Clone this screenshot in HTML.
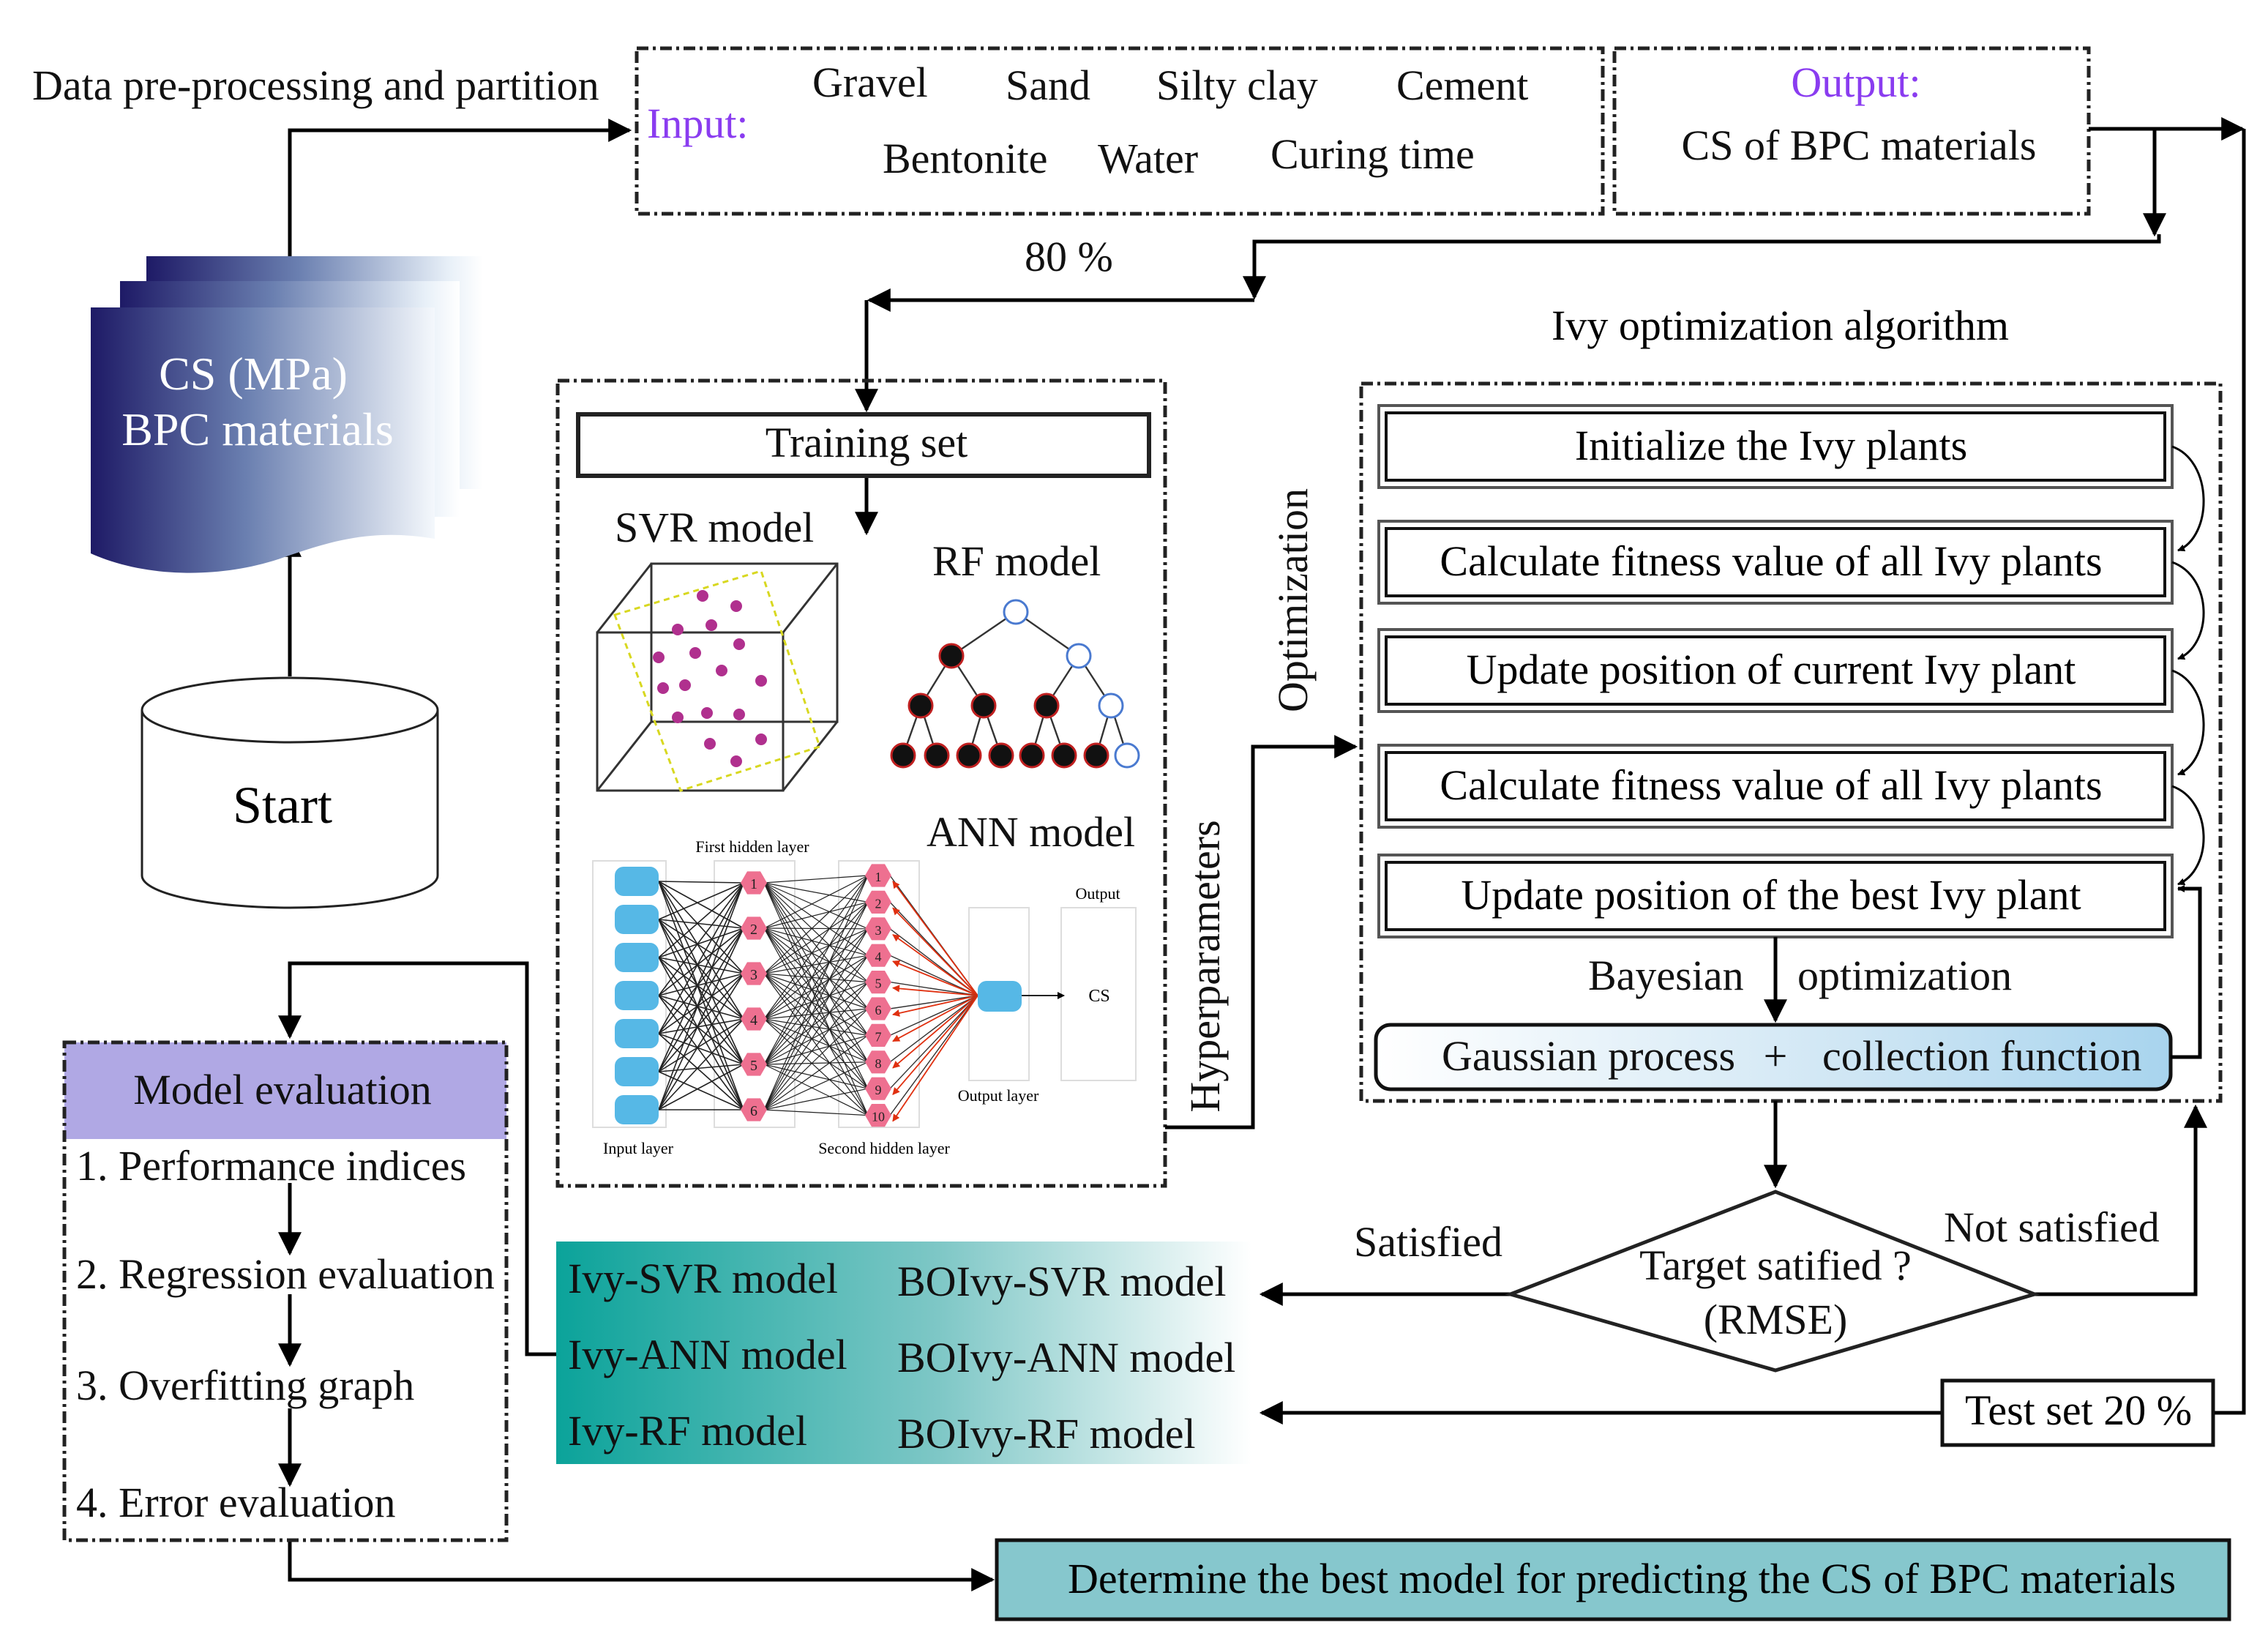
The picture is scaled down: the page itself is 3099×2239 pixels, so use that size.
<!DOCTYPE html>
<html><head><meta charset="utf-8"><style>
html,body{margin:0;padding:0;background:#fff;}
svg{display:block;font-family:"Liberation Serif",serif;}
</style></head><body>
<svg id="s" width="3099" height="2239" viewBox="0 0 1549.5 1119.5" xmlns="http://www.w3.org/2000/svg">
<defs>
<marker id="a" viewBox="0 0 10 10" refX="9" refY="5" markerWidth="6" markerHeight="5" orient="auto" markerUnits="userSpaceOnUse"><path d="M0,0L10,5L0,10z" fill="#000"/></marker>
<marker id="ab" viewBox="0 0 10 10" refX="9" refY="5" markerWidth="28" markerHeight="16" orient="auto" markerUnits="userSpaceOnUse"><path d="M0,0L10,5L0,10z" fill="#000"/></marker>
<marker id="ar" viewBox="0 0 10 10" refX="9" refY="5" markerWidth="6" markerHeight="5" orient="auto" markerUnits="userSpaceOnUse"><path d="M0,0L10,5L0,10z" fill="#e03010"/></marker>
<linearGradient id="doc" x1="0" x2="1" y1="0" y2="0"><stop offset="0" stop-color="#1e1a66"/><stop offset="0.45" stop-color="#6a7fb0"/><stop offset="1" stop-color="#f4f8fc"/></linearGradient>
<linearGradient id="doc2" x1="0" x2="1" y1="0" y2="0"><stop offset="0" stop-color="#1e1a66"/><stop offset="0.45" stop-color="#6a7fb0"/><stop offset="0.9" stop-color="#e8f0f8"/><stop offset="1" stop-color="#ffffff"/></linearGradient>
<linearGradient id="teal" x1="0" x2="1"><stop offset="0" stop-color="#0ba39a"/><stop offset="0.55" stop-color="#7ec7c6"/><stop offset="1" stop-color="#ffffff"/></linearGradient>
<linearGradient id="gau" x1="0" x2="1"><stop offset="0" stop-color="#ffffff"/><stop offset="0.6" stop-color="#cfe6f4"/><stop offset="1" stop-color="#a8d4ee"/></linearGradient>
</defs>
<g font-size="29" fill="#111">
<text x="22" y="68">Data pre-processing and partition</text>
<rect x="435" y="33" width="660" height="113" fill="none" stroke="#222" stroke-width="2.5" stroke-dasharray="8,3,2,3"/>
<rect x="1103" y="33" width="324" height="113" fill="none" stroke="#222" stroke-width="2.5" stroke-dasharray="8,3,2,3"/>
<text x="442" y="94" fill="#8a3cf0">Input:</text>
<text x="555" y="66">Gravel</text><text x="687" y="68">Sand</text><text x="790" y="68">Silty clay</text><text x="954" y="68">Cement</text>
<text x="603" y="118">Bentonite</text><text x="750" y="118">Water</text><text x="868" y="115">Curing time</text>
<text x="1268" y="66" text-anchor="middle" fill="#8a3cf0">Output:</text>
<text x="1270" y="109" text-anchor="middle">CS of BPC materials</text>
<text x="700" y="185">80 %</text>
</g>
<g stroke="#000" stroke-width="2.5" fill="none">
<polyline points="198,175 198,89 430,89" marker-end="url(#ab)"/>
<polyline points="1427,88 1532,88" marker-end="url(#ab)"/>
<polyline points="1472,88 1472,160" marker-end="url(#ab)"/>
<polyline points="1475,160 1475,165 857,165 857,203" marker-end="url(#ab)"/>
<polyline points="857,205 594,205" marker-end="url(#ab)"/>
<polyline points="592,205 592,280" marker-end="url(#ab)"/>
<polyline points="592,326 592,364" marker-end="url(#ab)"/>
<polyline points="198,462 198,366" marker-end="url(#ab)"/>
</g>
<!-- doc stack -->
<rect x="100" y="175" width="230" height="159" fill="url(#doc2)"/>
<rect x="82" y="192" width="232" height="161" fill="url(#doc2)"/>
<path d="M62,210 H297 V368 C250,360 220,372 190,382 C150,395 100,395 62,378 Z" fill="url(#doc)"/>
<text x="173" y="266" font-size="32" fill="#fff" text-anchor="middle">CS (MPa)</text>
<text x="176" y="304" font-size="32" fill="#fff" text-anchor="middle">BPC materials</text>
<!-- cylinder -->
<path d="M97,485 V598 A101,22 0 0 0 299,598 V485" fill="#fff" stroke="#222" stroke-width="1.5"/>
<ellipse cx="198" cy="485" rx="101" ry="22" fill="#fff" stroke="#222" stroke-width="1.5"/>
<text x="193" y="562" font-size="36" text-anchor="middle">Start</text>
<!-- training box -->
<rect x="381" y="260" width="415" height="550" fill="none" stroke="#222" stroke-width="2.5" stroke-dasharray="8,3,2,3"/>
<rect x="395" y="283" width="390" height="42" fill="#fff" stroke="#222" stroke-width="3"/>
<g font-size="29" fill="#111">
<text x="592" y="312" text-anchor="middle">Training set</text>
<text x="420" y="370">SVR model</text>
<text x="637" y="393">RF model</text>
<text x="633" y="578">ANN model</text>
</g>
<g stroke="#333" stroke-width="1.5" fill="none">
<rect x="408" y="432" width="127" height="108"/><rect x="445" y="385" width="127" height="108"/>
<line x1="408" y1="432" x2="445" y2="385"/><line x1="535" y1="432" x2="572" y2="385"/><line x1="408" y1="540" x2="445" y2="493"/><line x1="535" y1="540" x2="572" y2="493"/>
</g>
<polygon points="420,420 520,390 560,510 465,540" fill="none" stroke="#d8d820" stroke-width="1.5" stroke-dasharray="4,3"/>
<g fill="#b0308e">
<circle cx="480" cy="407" r="4"/><circle cx="503" cy="414" r="4"/><circle cx="463" cy="430" r="4"/><circle cx="486" cy="427" r="4"/><circle cx="505" cy="440" r="4"/><circle cx="450" cy="449" r="4"/><circle cx="475" cy="446" r="4"/><circle cx="493" cy="458" r="4"/><circle cx="453" cy="470" r="4"/><circle cx="468" cy="468" r="4"/><circle cx="520" cy="465" r="4"/><circle cx="483" cy="487" r="4"/><circle cx="505" cy="488" r="4"/><circle cx="463" cy="490" r="4"/><circle cx="520" cy="505" r="4"/><circle cx="485" cy="508" r="4"/><circle cx="503" cy="520" r="4"/>
</g>
<g stroke="#333" stroke-width="1.2">
<line x1="694" y1="418" x2="650" y2="448"/><line x1="694" y1="418" x2="737" y2="448"/>
<line x1="650" y1="448" x2="629" y2="482"/><line x1="650" y1="448" x2="672" y2="482"/><line x1="737" y1="448" x2="715" y2="482"/><line x1="737" y1="448" x2="759" y2="482"/>
<line x1="629" y1="482" x2="617" y2="516"/><line x1="629" y1="482" x2="640" y2="516"/><line x1="672" y1="482" x2="662" y2="516"/><line x1="672" y1="482" x2="684" y2="516"/><line x1="715" y1="482" x2="705" y2="516"/><line x1="715" y1="482" x2="727" y2="516"/><line x1="759" y1="482" x2="749" y2="516"/><line x1="759" y1="482" x2="770" y2="516"/>
</g>
<g fill="#111" stroke="#c02020" stroke-width="1.5">
<circle cx="650" cy="448" r="8"/><circle cx="629" cy="482" r="8"/><circle cx="672" cy="482" r="8"/><circle cx="715" cy="482" r="8"/>
<circle cx="617" cy="516" r="8"/><circle cx="640" cy="516" r="8"/><circle cx="662" cy="516" r="8"/><circle cx="684" cy="516" r="8"/><circle cx="705" cy="516" r="8"/><circle cx="727" cy="516" r="8"/><circle cx="749" cy="516" r="8"/>
</g>
<g fill="#fff" stroke="#4a7ad0" stroke-width="1.5">
<circle cx="694" cy="418" r="8"/><circle cx="737" cy="448" r="8"/><circle cx="759" cy="482" r="8"/><circle cx="770" cy="516" r="8"/>
</g>
<g id="ann"></g>
<text x="1060" y="232" font-size="29">Ivy optimization algorithm</text>
<rect x="930" y="262" width="587" height="490" fill="none" stroke="#222" stroke-width="2.5" stroke-dasharray="8,3,2,3"/>
<g id="ivy" font-size="29"></g>
<g font-size="29" fill="#111">
<text x="1085" y="676">Bayesian</text><text x="1228" y="676">optimization</text>
</g>
<rect x="940" y="700" width="543" height="44" rx="10" fill="url(#gau)" stroke="#111" stroke-width="2.5"/>
<g font-size="29" fill="#111">
<text x="985" y="731">Gaussian process</text><text x="1213" y="731" text-anchor="middle">+</text><text x="1245" y="731">collection function</text>
<text transform="translate(893,410) rotate(-90)" text-anchor="middle">Optimization</text>
<text transform="translate(833,660) rotate(-90)" text-anchor="middle">Hyperparameters</text>
</g>
<g stroke="#000" stroke-width="2.5" fill="none">
<polyline points="1213,640 1213,697" marker-end="url(#ab)"/>
<polyline points="1483,722 1503,722 1503,607 1488,607" marker-end="url(#a)"/>
<polyline points="796,770 856,770 856,510 926,510" marker-end="url(#ab)"/>
<polyline points="1213,752 1213,810" marker-end="url(#ab)"/>
<polyline points="1032,884 862,884" marker-end="url(#ab)"/>
<polyline points="1390,884 1500,884 1500,756" marker-end="url(#ab)"/>
<polyline points="1512,965 1533,965 1533,88"/>
<polyline points="1327,965 862,965" marker-end="url(#ab)"/>
<polyline points="380,925 360,925 360,658 198,658 198,708" marker-end="url(#ab)"/>
<polyline points="198,1052 198,1079 678,1079" marker-end="url(#ab)"/>
<polyline points="198,808 198,856" marker-end="url(#ab)"/>
<polyline points="198,884 198,932" marker-end="url(#ab)"/>
<polyline points="198,962 198,1014" marker-end="url(#ab)"/>
</g>
<polygon points="1032,884 1213,814 1390,884 1213,936" fill="#fff" stroke="#222" stroke-width="2.5"/>
<g font-size="29" fill="#111">
<text x="1213" y="874" text-anchor="middle">Target satified ?</text>
<text x="1213" y="911" text-anchor="middle">(RMSE)</text>
<text x="925" y="858">Satisfied</text>
<text x="1328" y="848">Not satisfied</text>
</g>
<rect x="1327" y="943" width="185" height="44" fill="#fff" stroke="#111" stroke-width="2.5"/>
<text x="1420" y="973" font-size="29" text-anchor="middle">Test set 20 %</text>
<rect x="380" y="848" width="475" height="152" fill="url(#teal)"/>
<g font-size="29" fill="#111">
<text x="388" y="883">Ivy-SVR model</text><text x="613" y="885">BOIvy-SVR model</text>
<text x="388" y="935">Ivy-ANN model</text><text x="613" y="937">BOIvy-ANN model</text>
<text x="388" y="987">Ivy-RF model</text><text x="613" y="989">BOIvy-RF model</text>
</g>
<rect x="44" y="712" width="302" height="66" fill="#b0a8e4"/>
<rect x="44" y="712" width="302" height="340" fill="none" stroke="#222" stroke-width="2.5" stroke-dasharray="8,3,2,3"/>
<g font-size="29" fill="#111">
<text x="193" y="754" text-anchor="middle">Model evaluation</text>
<text x="52" y="806">1. Performance indices</text>
<text x="52" y="880">2. Regression evaluation</text>
<text x="52" y="956">3. Overfitting graph</text>
<text x="52" y="1036">4. Error evaluation</text>
</g>
<rect x="681" y="1052" width="842" height="54" fill="#86c7cd" stroke="#111" stroke-width="2.5"/>
<text x="1108" y="1088" font-size="29" text-anchor="middle">Determine the best model for predicting the CS of BPC materials</text>
</svg>
<script>
var NS="http://www.w3.org/2000/svg";
function el(p,t,a,txt){var e=document.createElementNS(NS,t);for(var k in a)e.setAttribute(k,a[k]);if(txt!==undefined)e.textContent=txt;p.appendChild(e);return e;}
var ann=document.getElementById("ann");
var inp=[],h1=[],h2=[];
for(var i=0;i<7;i++)inp.push(602+i*26);
for(var i=0;i<6;i++)h1.push(603+i*31);
for(var i=0;i<10;i++)h2.push(598+i*18.2);
el(ann,"rect",{x:405,y:588,width:50,height:182,fill:"none",stroke:"#ddd"});
el(ann,"rect",{x:488,y:588,width:55,height:182,fill:"none",stroke:"#ddd"});
el(ann,"rect",{x:573,y:588,width:55,height:182,fill:"none",stroke:"#ddd"});
el(ann,"rect",{x:662,y:620,width:41,height:118,fill:"none",stroke:"#ddd"});
el(ann,"rect",{x:725,y:620,width:51,height:118,fill:"none",stroke:"#ddd"});
inp.forEach(function(a){h1.forEach(function(b){el(ann,"line",{x1:450,y1:a,x2:508,y2:b,stroke:"#222","stroke-width":0.8});});});
h1.forEach(function(a){h2.forEach(function(b){el(ann,"line",{x1:522,y1:a,x2:593,y2:b,stroke:"#222","stroke-width":0.6});});});
h2.forEach(function(b){el(ann,"line",{x1:668,y1:680,x2:608,y2:b,stroke:"#333","stroke-width":0.7});el(ann,"line",{x1:668,y1:680,x2:610,y2:b+4,stroke:"#e03010","stroke-width":0.9,"marker-end":"url(#ar)"});});
inp.forEach(function(a){el(ann,"rect",{x:420,y:a-10,width:30,height:20,rx:6,fill:"#56b8e6"});});
function hex(x,y,r){var p=[];for(var k=0;k<6;k++){var t=Math.PI/3*k;p.push((x+r*Math.cos(t))+","+(y+r*Math.sin(t)));}return p.join(" ");}
h1.forEach(function(a,i){el(ann,"polygon",{points:hex(515,a,9),fill:"#ee7090"});el(ann,"text",{x:515,y:a+4,"font-size":10,"text-anchor":"middle",fill:"#222"},String(i+1));});
h2.forEach(function(a,i){el(ann,"polygon",{points:hex(600,a,9),fill:"#ee7090"});el(ann,"text",{x:600,y:a+4,"font-size":9,"text-anchor":"middle",fill:"#222"},String(i+1));});
el(ann,"rect",{x:668,y:670,width:30,height:21,rx:6,fill:"#56b8e6"});
el(ann,"line",{x1:698,y1:680,x2:727,y2:680,stroke:"#222","stroke-width":1,"marker-end":"url(#a)"});
el(ann,"text",{x:751,y:684,"font-size":12,"text-anchor":"middle"},"CS");
el(ann,"text",{x:750,y:614,"font-size":11,"text-anchor":"middle"},"Output");
el(ann,"text",{x:682,y:752,"font-size":11,"text-anchor":"middle"},"Output layer");
el(ann,"text",{x:514,y:582,"font-size":11,"text-anchor":"middle"},"First hidden layer");
el(ann,"text",{x:436,y:788,"font-size":11,"text-anchor":"middle"},"Input layer");
el(ann,"text",{x:604,y:788,"font-size":11,"text-anchor":"middle"},"Second hidden layer");
var ivy=document.getElementById("ivy");
var boxes=[[277,"Initialize the Ivy plants"],[356,"Calculate fitness value of all Ivy plants"],[430,"Update position of current Ivy plant"],[509,"Calculate fitness value of all Ivy plants"],[584,"Update position of the best Ivy plant"]];
boxes.forEach(function(b){var y=b[0];
el(ivy,"rect",{x:942,y:y,width:542,height:56,fill:"#fff",stroke:"#555","stroke-width":2});
el(ivy,"rect",{x:947,y:y+5,width:532,height:46,fill:"none",stroke:"#111","stroke-width":2});
el(ivy,"text",{x:1210,y:y+37,"text-anchor":"middle"},b[1]);});
for(var i=0;i<4;i++){var y1=boxes[i][0]+28,y2=boxes[i+1][0]+20;
el(ivy,"path",{d:"M1484,"+y1+" C1512,"+(y1+10)+" 1512,"+(y2-10)+" 1488,"+y2,fill:"none",stroke:"#000","stroke-width":1.5,"marker-end":"url(#a)"});}
</script>
</body></html>
